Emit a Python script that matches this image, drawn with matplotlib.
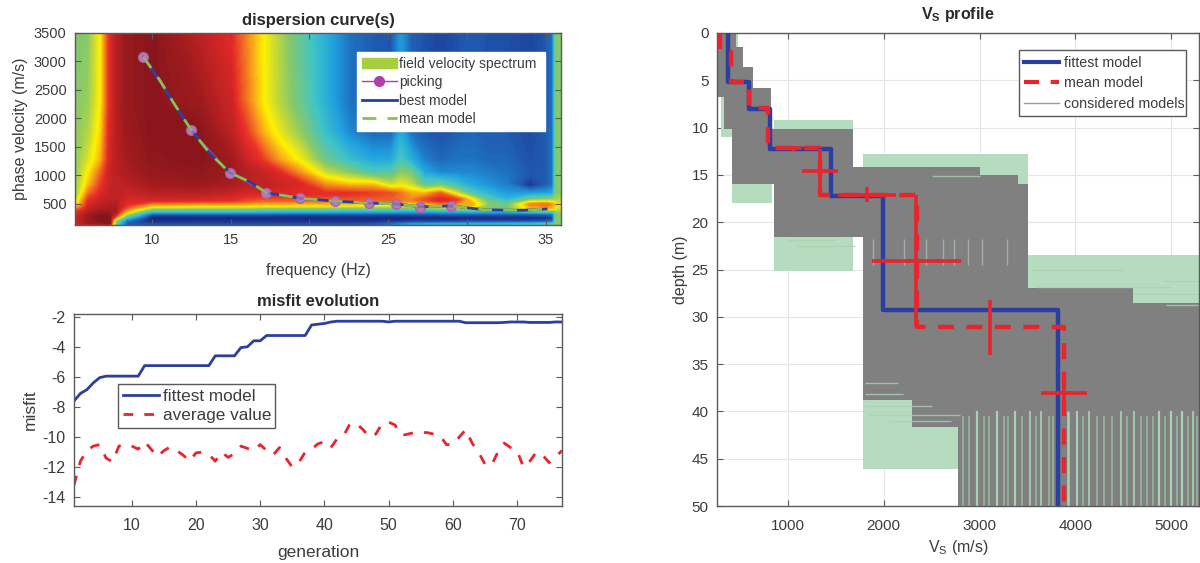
import numpy as np
import matplotlib
matplotlib.use("Agg")
import matplotlib.pyplot as plt
from matplotlib.patches import Patch
from matplotlib.lines import Line2D
from matplotlib.colors import LinearSegmentedColormap

plt.rcParams['font.family'] = ['Liberation Sans', 'DejaVu Sans']
plt.rcParams['mathtext.fontset'] = 'custom'
plt.rcParams['mathtext.rm'] = 'Liberation Sans'
plt.rcParams['mathtext.bf'] = 'Liberation Sans:bold'
plt.rcParams['mathtext.default'] = 'regular'

# ---- velocity spectrum (colour percent), one list per frequency, rows follow spec_velocity
spec_velocity = [3500, 2300, 1750, 1270, 1040, 830, 680, 570, 490, 430, 380, 330, 280, 230, 180, 130]
spec_frequency = [5.15, 6, 6.8, 7.3, 7.7, 8.4, 10, 13, 15, 16, 17, 18, 19.5, 21, 22.5, 24, 25.2, 25.8,
                  26.4, 27.3, 28.3, 29.3, 30.3, 31.3, 32.5, 34, 35, 35.45, 35.65, 35.95]
spec_columns = [
    [50, 50, 50, 50, 50, 50, 50, 55, 62, 70, 80, 86, 88, 90, 90, 88],
    [50, 52, 55, 60, 65, 70, 78, 85, 88, 90, 92, 94, 96, 96, 96, 88],
    [65, 65, 68, 72, 80, 85, 88, 90, 92, 93, 95, 97, 100, 100, 98, 90],
    [85, 85, 87, 88, 90, 90, 91, 92, 93, 94, 95, 97, 99, 100, 100, 88],
    [92, 92, 92, 92, 92, 92, 92, 92, 93, 94, 95, 90, 80, 55, 45, 40],
    [97, 97, 96, 95, 94, 92, 90, 88, 86, 80, 70, 55, 40, 22, 14, 15],
    [99, 99, 99, 98, 97, 95, 92, 88, 72, 52, 35, 14, 4, 3, 5, 12],
    [92, 96, 99, 99, 98, 96, 92, 87, 70, 50, 35, 14, 4, 3, 6, 12],
    [87, 90, 92, 96, 96, 94, 90, 86, 70, 50, 35, 14, 4, 3, 6, 12],
    [76, 78, 85, 90, 93, 92, 88, 83, 70, 50, 34, 14, 4, 3, 6, 12],
    [65, 65, 72, 85, 91, 92, 88, 80, 68, 48, 33, 14, 4, 3, 6, 12],
    [55, 56, 62, 74, 88, 90, 88, 80, 68, 48, 33, 13, 4, 3, 6, 12],
    [42, 44, 50, 62, 74, 88, 87, 80, 66, 48, 32, 13, 4, 3, 6, 12],
    [30, 30, 35, 45, 58, 75, 86, 80, 66, 48, 32, 13, 4, 3, 6, 12],
    [18, 18, 22, 35, 50, 70, 86, 80, 66, 46, 30, 13, 4, 3, 6, 12],
    [14, 14, 16, 28, 40, 70, 84, 80, 64, 46, 30, 13, 4, 3, 6, 14],
    [13, 13, 16, 28, 42, 58, 82, 80, 64, 46, 30, 13, 4, 3, 8, 18],
    [25, 25, 28, 38, 50, 62, 78, 78, 64, 46, 28, 13, 4, 3, 8, 22],
    [15, 15, 18, 30, 48, 58, 72, 76, 62, 46, 28, 13, 4, 3, 10, 26],
    [12, 12, 14, 20, 28, 42, 70, 82, 66, 46, 28, 13, 5, 4, 10, 28],
    [10, 10, 12, 16, 22, 45, 80, 88, 72, 50, 30, 14, 5, 4, 10, 30],
    [12, 12, 14, 18, 22, 36, 60, 84, 72, 52, 30, 14, 5, 4, 10, 30],
    [14, 14, 16, 18, 22, 28, 40, 65, 72, 54, 32, 14, 6, 5, 12, 32],
    [12, 12, 14, 16, 20, 24, 32, 42, 50, 46, 30, 14, 6, 5, 12, 32],
    [12, 12, 14, 16, 18, 20, 25, 32, 44, 46, 30, 14, 6, 5, 12, 34],
    [10, 10, 11, 12, 13, 6, 25, 48, 75, 70, 38, 14, 6, 5, 12, 36],
    [13, 13, 14, 14, 14, 14, 26, 50, 78, 72, 40, 16, 7, 6, 14, 40],
    [18, 18, 18, 18, 18, 18, 28, 52, 72, 68, 42, 18, 10, 10, 18, 42],
    [48, 48, 48, 48, 48, 48, 48, 54, 62, 60, 52, 48, 48, 48, 48, 48],
    [50, 50, 50, 50, 50, 50, 50, 55, 60, 58, 52, 50, 50, 50, 50, 50],
]
spec_stops = [0, 0.06, 0.13, 0.26, 0.37, 0.50, 0.58, 0.65, 0.75, 0.87, 1]
spec_colors = ['#14246f', '#1b2f8a', '#1f55ac', '#1f9fe0', '#3fc4c8', '#86c96a', '#c9da32', '#fff200', '#f7941d',
               '#e52a27', '#84151a']

# ---- dispersion curves
pick_f = [9.45, 12.5, 14.94, 17.26, 19.4, 21.6, 23.8, 25.5, 27, 29]
pick_v = [3084, 1798, 1049, 698, 600, 550, 515, 500, 450, 465]
curve_f = [9.45, 10.5, 11.4, 12.5, 13.67, 14.94, 16.2, 17.26, 19.4, 21.6, 23.8, 25.5, 27, 29, 31, 32.4, 33.6, 35]
curve_v = [3084, 2675, 2267, 1798, 1392, 1049, 890, 698, 600, 550, 515, 500, 450, 465, 400, 390, 390, 410]

# ---- misfit evolution
generation = list(range(1, 78))
fittest = [-7.6, -7.1, -6.85, -6.4, -6.05, -5.95, -5.95, -5.95, -5.95, -5.95, -5.95, -5.25, -5.25, -5.25,
           -5.25, -5.25, -5.25, -5.25, -5.25, -5.25, -5.25, -5.25, -4.6, -4.6, -4.6, -4.6, -4.05, -4.0, -3.6,
           -3.6, -3.25, -3.25, -3.25, -3.25, -3.25, -3.25, -3.25, -2.55, -2.5, -2.45, -2.35, -2.3, -2.3, -2.3,
           -2.3, -2.3, -2.3, -2.3, -2.3, -2.35, -2.3, -2.3, -2.3, -2.3, -2.3, -2.3, -2.3, -2.3, -2.3, -2.3,
           -2.3, -2.4, -2.4, -2.4, -2.4, -2.4, -2.4, -2.38, -2.35, -2.35, -2.35, -2.38, -2.38, -2.38, -2.38,
           -2.35, -2.35]
average = [-13.2, -11.6, -10.9, -10.6, -10.5, -11.4, -11.65, -10.6, -10.5, -10.6, -10.8, -10.3, -10.8, -11.3,
           -10.9, -10.65, -10.9, -11.2, -11.6, -11.05, -11.0, -11.15, -11.6, -11.0, -11.35, -11.1, -10.6,
           -10.75, -10.9, -10.5, -10.9, -11.2, -10.7, -11.4, -12.0, -11.7, -11.0, -10.8, -10.45, -10.3, -10.7,
           -10.1, -9.9, -9.1, -9.1, -9.5, -10.0, -9.8, -9.1, -9.0, -9.2, -9.9, -9.8, -9.7, -9.7, -9.7, -9.8,
           -9.9, -10.5, -10.5, -10.0, -9.5, -10.4, -11.0, -11.8, -11.9, -11.0, -10.4, -10.7, -10.9, -12.0,
           -11.6, -11.0, -11.2, -11.7, -11.3, -10.9]

# ---- Vs profile
fit_vs = [370, 594, 810, 1448, 1990, 3818]
fit_bottom = [5.2, 8.05, 12.25, 17.25, 29.3, 50]
mean_vs = [290, 407, 594, 790, 1333, 2344, 3885]
mean_bottom = [2, 5.2, 7.9, 12.2, 17.1, 31.1, 50]
# error crosses: centre vs, centre depth, vs half width, depth half height
err_vs = [1058, 1335, 1823, 2340, 3104, 3885]
err_depth = [12.2, 14.6, 17.1, 24.1, 31.1, 38.1]
err_dvs = [90, 185, 300, 465, 0, 240]
err_dz = [0.3, 2.3, 0.8, 7.0, 2.9, 1.6]

# envelope boxes of the search space: vs0, vs1, depth0, depth1
box_vs0 = [300, 420, 850, 1780, 2770]
box_vs1 = [480, 830, 1680, 3510, 5290]
box_z0 = [0, 10, 9.2, 12.8, 23.5]
box_z1 = [11, 18, 25.2, 46.1, 50]

# envelope of the considered models
cloud_z = [0, 1.5, 3.6, 5.8, 6.8, 10.2, 14.2, 15, 16, 21.6, 27, 28.5, 38.8, 41.7, 50]
cloud_l = [270, 270, 270, 270, 333, 420, 420, 420, 850, 1780, 1780, 1780, 2300, 2770, 2770]
cloud_r = [460, 530, 640, 820, 820, 1680, 3000, 3400, 3510, 3510, 4600, 5290, 5290, 5290, 5290]

# pale vertical gaps between models below 40 m
gap_vs = [2974, 3177, 3365, 3531, 3645, 3923, 4016, 4146, 4479, 4610, 4871, 5000, 5115, 5225]
gap_width = [1.6, 1.6, 1.6, 1.2, 1.2, 1.8, 1.4, 1.2, 1.2, 1.2, 1.6, 1.6, 1.6, 1.2]
faint_vs = [2830, 2890, 3050, 3100, 3250, 3300, 3440, 3590, 3720, 3770, 4080, 4230, 4300, 4380, 4540, 4680, 4750,
            4810, 4930, 5060, 5170, 5270]
# faint vertical gaps just above 25 m
upper_gap_vs = [1890, 2210, 2440, 2620, 2730, 2880, 3030, 3290]
# pale horizontal gaps: depth, vs0, vs1
hgap_z = [15.1, 21.9, 22.5, 25.0, 26.8, 27.6, 37.0, 38.2, 39.4, 40.4, 41.0, 28.8, 26.2]
hgap_v0 = [2500, 1000, 1100, 3550, 3600, 4600, 1800, 1800, 1800, 1850, 2050, 4950, 4900]
hgap_v1 = [3000, 1500, 1700, 4500, 5000, 5290, 2150, 2200, 2500, 2800, 2700, 5290, 5290]

W, H = 1200, 563
fig = plt.figure(figsize=(12, 5.63), dpi=100)
TXT = '#3c3c3c'
SP = '#5a5a5a'
BLUE = '#2a3f9f'
RED = '#e8242c'


def make_axes(l, r, t, b):
    ax = fig.add_axes([l / W, 1 - b / H, (r - l) / W, (b - t) / H])
    ax.tick_params(direction='in', top=True, right=True, length=4, width=0.8, color=SP,
                   labelcolor=TXT, labelsize=10.5, pad=6)
    for s in ax.spines.values():
        s.set_color(SP)
        s.set_linewidth(1.0)
    return ax


# ---------------- dispersion curves
ax1 = make_axes(75, 561, 33, 225)
Z = np.array(spec_columns).T
spec_cmap = LinearSegmentedColormap.from_list('spec', list(zip(spec_stops, spec_colors)), N=256)
cs = ax1.contourf(spec_frequency, spec_velocity, Z, levels=np.linspace(0, 100, 129), cmap=spec_cmap, vmin=0, vmax=100)
cs.set_edgecolor('face')
ax1.plot(pick_f, pick_v, '-o', color='#b040a8', lw=1, ms=7, mfc='#b060a8', mec='#b060a8')
ax1.plot(curve_f, curve_v, color=BLUE, lw=2)
ax1.plot(curve_f, curve_v, color='#8cc050', lw=2, dashes=(5, 4))
ax1.plot(pick_f, pick_v, 'o', color='#b48cb4', ms=6, alpha=0.65, mew=0)
ax1.set_xlim(5.13, 35.95)
ax1.set_ylim(130, 3500)
ax1.set_xticks([10, 15, 20, 25, 30, 35])
ax1.set_yticks([500, 1000, 1500, 2000, 2500, 3000, 3500])
ax1.set_xlabel('frequency (Hz)', fontsize=11.5, color=TXT, labelpad=11)
ax1.set_ylabel('phase velocity (m/s)', fontsize=11.5, color=TXT, labelpad=4)
ax1.set_title('dispersion curve(s)', fontsize=12, fontweight='bold', color='#2a2a2a', pad=6)
h1 = [Patch(color='#a6cf3f'),
      Line2D([], [], color='#b040a8', lw=1, marker='o', ms=7, mfc='#b040a8', mec='#b040a8'),
      Line2D([], [], color=BLUE, lw=2),
      Line2D([], [], color='#8cc050', lw=2, dashes=(5, 4))]
leg = ax1.legend(h1, ['field velocity spectrum', 'picking', 'best model', 'mean model'],
                 loc='upper left', bbox_to_anchor=((357 - 75) / 486, 1 - 99 / 192, 188 / 486, 80 / 192),
                 mode='expand', fontsize=10, frameon=True, fancybox=False, framealpha=1, edgecolor='white',
                 handlelength=2.5, handletextpad=0.2, labelspacing=0.32, borderpad=0.35, borderaxespad=0,
                 labelcolor=TXT)

# ---------------- misfit evolution
ax2 = make_axes(74, 562, 314, 506)
ax2.plot(generation, fittest, color=BLUE, lw=2)
ax2.plot(generation, average, color=RED, lw=2, dashes=(3.5, 4))
ax2.set_xlim(1, 77)
ax2.set_ylim(-14.58, -1.82)
ax2.set_xticks(range(10, 71, 10))
ax2.set_yticks(range(-14, -1, 2))
ax2.set_yticklabels(['-14', '-12', '-10', '-8', '-6', '-4', '-2'])
ax2.tick_params(labelsize=11.5, axis='both')
ax2.tick_params(axis='x', pad=9)
ax2.set_xlabel('generation', fontsize=12.5, color=TXT, labelpad=8)
ax2.set_ylabel('misfit', fontsize=12.5, color=TXT, labelpad=3)
ax2.set_title('misfit evolution', fontsize=12, fontweight='bold', color='#2a2a2a', pad=6)
ax2.legend(handles=ax2.lines[:2], labels=['fittest model', 'average value'], loc='upper left',
           bbox_to_anchor=((117.6 - 74) / 488, 1 - 122 / 192, 157.5 / 488, 52 / 192), mode='expand',
           fontsize=12.3, frameon=True, fancybox=False, framealpha=1, edgecolor=SP,
           handlelength=2.1, handletextpad=0.25, labelspacing=0.2, borderpad=0.3, borderaxespad=0,
           labelcolor=TXT)

# ---------------- Vs profile
ax3 = make_axes(717, 1199, 33, 506)
ax3.grid(True, color='#e6e6e6', lw=0.8)
ax3.set_axisbelow(True)
GREEN = '#b6dcbf'
GRAY = '#808080'
for v0, v1, z0, z1 in zip(box_vs0, box_vs1, box_z0, box_z1):
    ax3.fill_betweenx([z0, z1], v0, v1, color=GREEN, lw=0, zorder=1.5)
ax3.fill_betweenx(cloud_z, cloud_l, cloud_r, step='post', color=GRAY, lw=0, zorder=2)
ax3.vlines(faint_vs, 40.5, 50, color='#93b39b', lw=1.3, zorder=2.1)
ax3.vlines(gap_vs, 40, 50, color='#a9d2b2', lw=gap_width, zorder=2.1)
ax3.vlines(upper_gap_vs, 21.8, 24.5, color='#a3aea6', lw=1.0, zorder=2.1)
ax3.hlines(hgap_z, hgap_v0, hgap_v1, color='#a9d2b2', lw=1.0, alpha=0.8, zorder=2.1)


def stair(vs, bottom):
    return list(vs) + [vs[-1]], [0] + list(bottom)


x, y = stair(fit_vs, fit_bottom)
ax3.step(x, y, where='pre', color=BLUE, lw=3.2, zorder=3)
x, y = stair(mean_vs, mean_bottom)
ax3.step(x, y, where='pre', color=RED, lw=3.2, dashes=(3.6, 2.8), zorder=4)
ax3.errorbar(err_vs, err_depth, xerr=err_dvs, yerr=err_dz, fmt='none', ecolor=RED, elinewidth=2.6, capsize=0,
             zorder=4)
ax3.set_xlim(260, 5290)
ax3.set_ylim(50, 0)
ax3.set_xticks([1000, 2000, 3000, 4000, 5000])
ax3.set_yticks(range(0, 51, 5))
ax3.tick_params(labelsize=11)
ax3.tick_params(axis='x', pad=9)
ax3.set_xlabel(r'V$_{S}$ (m/s)', fontsize=11.5, color=TXT, labelpad=4)
ax3.set_ylabel('depth (m)', fontsize=11.5, color=TXT, labelpad=3)
ax3.set_title(r'$\mathbf{V_S}$ $\mathbf{profile}$', fontsize=11.5, color='#2a2a2a', pad=10)
h3 = [Line2D([], [], color=BLUE, lw=3),
      Line2D([], [], color=RED, lw=3, dashes=(3.6, 2.8)),
      Line2D([], [], color='#9a9a9a', lw=1)]
ax3.legend(h3, ['fittest model', 'mean model', 'considered models'], loc='upper left',
           bbox_to_anchor=((1018.6 - 717) / 482, 1 - 81 / 473, 167.5 / 482, 64 / 473), mode='expand',
           fontsize=10.3, frameon=True, fancybox=False, framealpha=1, edgecolor=SP,
           handlelength=2.45, handletextpad=0.3, labelspacing=0.45, borderpad=0.4, borderaxespad=0,
           labelcolor=TXT).set_zorder(10)

fig.savefig('out.png', dpi=100)
